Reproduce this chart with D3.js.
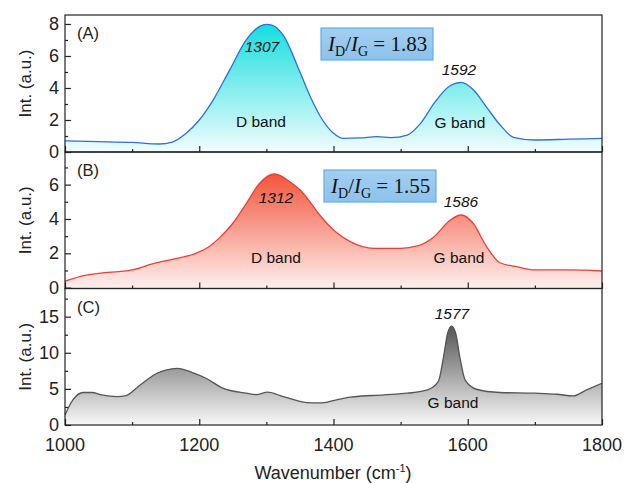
<!DOCTYPE html>
<html>
<head>
<meta charset="utf-8">
<script src="https://cdn.jsdelivr.net/npm/d3@7"></script>
<style>
  body { margin: 0; background: #fff; }
  svg text { font-family: "Liberation Sans", Arial, sans-serif; }
</style>
</head>
<body>
<div class="chart"></div>
<script>
// ---- data ----
var waveA = [1000,1050,1100,1140,1160,1180,1200,1220,1245,1270,1290,1300,1310,1325,1350,1365,1380,1400,1415,1440,1465,1485,1510,1530,1550,1573,1590,1608,1628,1648,1668,1700,1750,1800];
var intA  = [0.69,0.65,0.6,0.5,0.62,1.15,2.0,3.2,5.1,7.0,7.85,7.97,7.9,7.3,5.0,3.5,2.25,1.17,0.85,0.88,0.96,0.9,1.06,1.8,3.05,4.12,4.35,3.9,2.8,1.7,0.92,0.75,0.8,0.85];

var waveB = [1000,1030,1050,1100,1130,1160,1195,1215,1230,1250,1270,1290,1312,1335,1350,1365,1380,1400,1425,1460,1500,1525,1550,1574,1590,1608,1628,1648,1673,1700,1750,1800];
var intB  = [0.38,0.72,0.83,1.03,1.38,1.65,2.0,2.4,2.9,3.75,4.9,6.08,6.62,6.17,5.7,5.0,4.2,3.36,2.68,2.29,2.29,2.43,2.97,3.94,4.23,3.75,2.39,1.45,1.22,1.03,1.03,0.97];

var waveC = [1000,1012,1027,1040,1055,1077,1090,1112,1137,1150,1167,1190,1210,1235,1270,1285,1302,1325,1360,1380,1400,1425,1475,1510,1540,1556,1564,1570,1576,1582,1589,1596,1613,1648,1700,1733,1757,1777,1800];
var intC  = [1.4,3.5,4.5,4.5,4.17,3.94,4.03,5.55,7.17,7.6,7.85,7.26,6.47,5.1,4.4,4.2,4.54,3.94,3.11,3.05,3.38,3.85,4.17,4.4,4.86,6.0,9.46,12.7,13.7,12.7,9.0,6.24,4.95,4.5,4.4,4.26,4.03,4.86,5.78];

var xTicks = [1000, 1200, 1400, 1600, 1800];
var ticksA = [0, 2, 4, 6, 8];
var ticksB = [0, 2, 4, 6];
var ticksC = [0, 5, 10, 15];

var panelLetters = ["(A)", "(B)", "(C)"];
var ratios = ["1.83", "1.55"];

var svgWidth = 624, svgHeight = 483;
var left = 65, right = 602;

var svg = d3.select(".chart").append("svg")
  .attr("width", svgWidth)
  .attr("height", svgHeight);

var defs = svg.append("defs");

var x = d3.scaleLinear().domain([1000, 1800]).range([left, right]);

// panels: pixel top/bottom + value domain
var panels = [
  { wave: waveA, vals: intA, top: 15, bottom: 152, domain: [0, 8.56], ticks: ticksA, minor: [1,3,5,7],
    line: "#2c6fe0", fillTop: "#16dede", fillBot: "#f2fdfe", id: "gA" },
  { wave: waveB, vals: intB, top: 152, bottom: 288.5, domain: [-0.05, 7.9], ticks: ticksB, minor: [1,3,5,7],
    line: "#ee3e3a", fillTop: "#f2553b", fillBot: "#fef0ee", id: "gB" },
  { wave: waveC, vals: intC, top: 288.5, bottom: 425, domain: [0, 18.9], ticks: ticksC, minor: [2.5,7.5,12.5,17.5],
    line: "#555555", fillTop: "#555555", fillBot: "#f8f8f8", id: "gC" }
];

panels.forEach(function(p, i) {
  var y = d3.scaleLinear().domain(p.domain).range([p.bottom, p.top]);
  var data = p.wave.map(function(w, k) { return { w: w, v: p.vals[k] }; });

  var peak = y(d3.max(p.vals));
  var grad = defs.append("linearGradient")
    .attr("id", p.id)
    .attr("gradientUnits", "userSpaceOnUse")
    .attr("x1", 0).attr("x2", 0)
    .attr("y1", peak).attr("y2", p.bottom);
  grad.append("stop").attr("offset", "0%").attr("stop-color", p.fillTop);
  grad.append("stop").attr("offset", "100%").attr("stop-color", p.fillBot);

  var area = d3.area()
    .x(d => x(d.w))
    .y0(p.bottom)
    .y1(d => y(d.v))
    .curve(d3.curveMonotoneX);
  var line = d3.line()
    .x(d => x(d.w))
    .y(d => y(d.v))
    .curve(d3.curveMonotoneX);

  svg.append("path").datum(data)
    .attr("d", area)
    .attr("fill", "url(#" + p.id + ")");
  svg.append("path").datum(data)
    .attr("d", line)
    .attr("fill", "none")
    .attr("stroke", p.line)
    .attr("stroke-width", 1.3);

  // y axis, ticks inward
  svg.append("g")
    .attr("transform", `translate(${left},0)`)
    .call(d3.axisRight(y).tickValues(p.ticks).tickSize(6).tickFormat(""))
    .call(g => g.select(".domain").remove())
    .selectAll("line").attr("stroke", "#222").attr("stroke-width", 1.2);
  svg.append("g")
    .attr("transform", `translate(${left},0)`)
    .call(d3.axisRight(y).tickValues(p.minor).tickSize(3).tickFormat(""))
    .call(g => g.select(".domain").remove())
    .selectAll("line").attr("stroke", "#222").attr("stroke-width", 1.2);

  svg.selectAll(null).data(p.ticks).enter()
    .append("text")
    .attr("x", left - 6)
    .attr("y", d => y(d))
    .attr("dy", "0.34em")
    .attr("text-anchor", "end")
    .attr("font-size", 18)
    .attr("fill", "#222")
    .text(d => d);

  // bottom ticks of each panel, inward
  svg.append("g")
    .attr("transform", `translate(0,${p.bottom})`)
    .call(d3.axisTop(x).tickValues(xTicks).tickSize(6).tickFormat(""))
    .call(g => g.select(".domain").remove())
    .selectAll("line").attr("stroke", "#222").attr("stroke-width", 1.2);
  svg.append("g")
    .attr("transform", `translate(0,${p.bottom})`)
    .call(d3.axisTop(x).tickValues([1100, 1300, 1500, 1700]).tickSize(3).tickFormat(""))
    .call(g => g.select(".domain").remove())
    .selectAll("line").attr("stroke", "#222").attr("stroke-width", 1.2);

  // frame of the panel
  svg.append("rect")
    .attr("x", left).attr("y", p.top)
    .attr("width", right - left).attr("height", p.bottom - p.top)
    .attr("fill", "none")
    .attr("stroke", "#222")
    .attr("stroke-width", 1.2);

  // y label
  svg.append("text")
    .attr("transform", `translate(31,${(p.top + p.bottom) / 2}) rotate(-90)`)
    .attr("text-anchor", "middle")
    .attr("font-size", 17)
    .attr("fill", "#222")
    .text("Int. (a.u.)");

  svg.append("text")
    .attr("x", 77).attr("y", p.top + 24)
    .attr("font-size", 16.5)
    .attr("fill", "#222")
    .text(panelLetters[i]);
});

// bottom axis labels
svg.selectAll(null).data(xTicks).enter()
  .append("text")
  .attr("x", d => x(d))
  .attr("y", 451)
  .attr("text-anchor", "middle")
  .attr("font-size", 18)
  .attr("fill", "#222")
  .text(d => d);

var title = svg.append("text")
  .attr("x", 333).attr("y", 479)
  .attr("text-anchor", "middle")
  .attr("font-size", 18)
  .attr("fill", "#222");
title.append("tspan").text("Wavenumber (cm");
title.append("tspan").attr("font-size", 11).attr("dy", -7).text("-1");
title.append("tspan").attr("dy", 7).text(")");

// peak annotations
var notes = [
  { t: "1307", x: 262, y: 52, it: true },
  { t: "D band", x: 261, y: 127 },
  { t: "1592", x: 459, y: 75, it: true },
  { t: "G band", x: 460, y: 128 },
  { t: "1312", x: 276, y: 203, it: true },
  { t: "D band", x: 276, y: 263 },
  { t: "1586", x: 461, y: 207, it: true },
  { t: "G band", x: 459, y: 263 },
  { t: "1577", x: 452, y: 319, it: true },
  { t: "G band", x: 453, y: 408 }
];
svg.selectAll(null).data(notes).enter()
  .append("text")
  .attr("x", d => d.x).attr("y", d => d.y)
  .attr("text-anchor", "middle")
  .attr("font-size", 15.5)
  .attr("font-style", d => d.it ? "italic" : "normal")
  .attr("fill", "#111")
  .text(d => d.t);

// ID/IG boxes
var boxGrad = defs.append("linearGradient").attr("id", "boxG")
  .attr("x1", 0).attr("x2", 0).attr("y1", 0).attr("y2", 1);
boxGrad.append("stop").attr("offset", "0%").attr("stop-color", "#a3cff0");
boxGrad.append("stop").attr("offset", "100%").attr("stop-color", "#8cc2ec");

[{ x: 321, y: 28, r: ratios[0] }, { x: 324, y: 170, r: ratios[1] }].forEach(function(b) {
  svg.append("rect")
    .attr("x", b.x).attr("y", b.y)
    .attr("width", 112).attr("height", 32)
    .attr("fill", "url(#boxG)")
    .attr("stroke", "#5fb0e8")
    .attr("stroke-width", 1.2);
  var t = svg.append("text")
    .attr("x", b.x + 7).attr("y", b.y + 23)
    .attr("font-size", 21)
    .attr("fill", "#111")
    .style("font-family", "'Liberation Serif', 'Times New Roman', serif");
  t.append("tspan").attr("font-style", "italic").text("I");
  t.append("tspan").attr("font-size", 14).attr("dy", 5).text("D");
  t.append("tspan").attr("dy", -5).text("/");
  t.append("tspan").attr("font-style", "italic").text("I");
  t.append("tspan").attr("font-size", 14).attr("dy", 5).text("G");
  t.append("tspan").attr("dy", -5).text(" = " + b.r);
});
</script>
</body>
</html>
